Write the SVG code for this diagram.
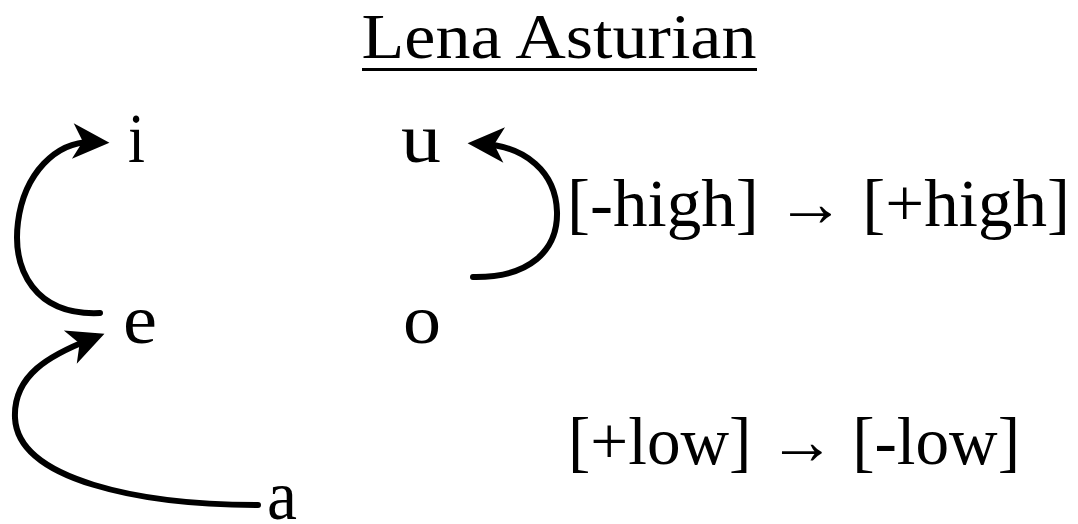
<svg xmlns="http://www.w3.org/2000/svg" width="1078" height="524" viewBox="0 0 1078 524">
<style>
text{font-family:"Liberation Serif","DejaVu Serif",serif;fill:#000}
.v{font-size:70px}
.r{font-size:68px}
.c{fill:none;stroke:#000;stroke-width:6;stroke-linecap:round}
</style>
<defs>
<marker id="ah" markerUnits="userSpaceOnUse" markerWidth="40" markerHeight="40" viewBox="-22 -17 36 34" refX="0" refY="0" orient="auto" overflow="visible">
<path d="M13,0 L-20,-16 L-11,0 L-20,16 Z" fill="#000"/>
</marker>
</defs>
<g id="title">
<text x="559" y="58" font-size="64" text-anchor="middle" textLength="395" lengthAdjust="spacingAndGlyphs">Lena Asturian</text>
<rect x="362" y="68" width="395" height="3" fill="#000"/>
</g>
<g id="node-i"><text class="v" x="128" y="162" textLength="17" lengthAdjust="spacingAndGlyphs">i</text></g>
<g id="node-u"><text class="v" x="401" y="162" textLength="40" lengthAdjust="spacingAndGlyphs">u</text></g>
<g id="node-e"><text class="v" x="123" y="343" textLength="34" lengthAdjust="spacingAndGlyphs">e</text></g>
<g id="node-o"><text class="v" x="403" y="343" textLength="38" lengthAdjust="spacingAndGlyphs">o</text></g>
<g id="node-a"><text class="v" x="267" y="519" textLength="30" lengthAdjust="spacingAndGlyphs">a</text></g>
<g id="label-high"><text class="r" x="567" y="226" textLength="503" lengthAdjust="spacingAndGlyphs">[-high] → [+high]</text></g>
<g id="label-low"><text class="r" x="568" y="464" textLength="452" lengthAdjust="spacingAndGlyphs">[+low] → [-low]</text></g>
<g id="connectors">
<path class="c" d="M100,313 C35,316 12,270 18,222 C24,175 55,140 95,142" marker-end="url(#ah)"/>
<path class="c" d="M258,505 C140,505 18,480 15,418 C13,375 50,355 91,339" marker-end="url(#ah)"/>
<path class="c" d="M473,277 C530,278 558,250 557,212 C556,172 525,146 482,144" marker-end="url(#ah)"/>
</g>
</svg>
